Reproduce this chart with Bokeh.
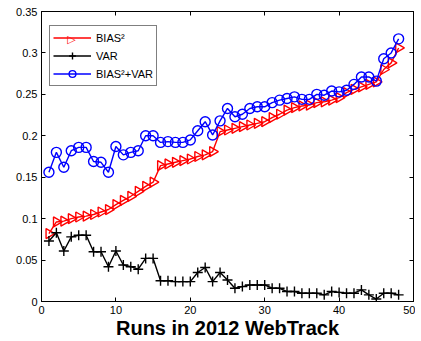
import math
from bokeh.plotting import figure
from bokeh.models import Range1d, LinearAxis, FixedTicker, Legend, LegendItem, Label
from bokeh.embed import file_html
from bokeh.resources import INLINE

runs = list(range(1, 49))
bias2 = [0.082, 0.096, 0.097, 0.100, 0.102, 0.103, 0.105, 0.108, 0.111, 0.117,
         0.122, 0.127, 0.133, 0.139, 0.144, 0.164, 0.166, 0.168, 0.170, 0.172,
         0.175, 0.177, 0.181, 0.205, 0.207, 0.209, 0.211, 0.213, 0.215, 0.217,
         0.222, 0.226, 0.231, 0.234, 0.236, 0.237, 0.240, 0.241, 0.243, 0.246,
         0.252, 0.256, 0.259, 0.262, 0.265, 0.280, 0.288, 0.306]
var = [0.073, 0.083, 0.061, 0.078, 0.080, 0.080, 0.060, 0.060, 0.042, 0.061,
       0.044, 0.042, 0.039, 0.052, 0.052, 0.025, 0.025, 0.024, 0.024, 0.024,
       0.035, 0.041, 0.024, 0.035, 0.026, 0.016, 0.018, 0.020, 0.020, 0.020,
       0.016, 0.016, 0.012, 0.012, 0.010, 0.010, 0.010, 0.008, 0.012, 0.011,
       0.010, 0.010, 0.014, 0.008, 0.003, 0.010, 0.010, 0.008]
total = [0.156, 0.180, 0.162, 0.182, 0.186, 0.186, 0.169, 0.168, 0.156, 0.187,
         0.177, 0.180, 0.182, 0.200, 0.200, 0.192, 0.193, 0.192, 0.192, 0.195,
         0.206, 0.217, 0.201, 0.218, 0.233, 0.223, 0.226, 0.233, 0.235, 0.235,
         0.240, 0.243, 0.245, 0.247, 0.244, 0.244, 0.250, 0.249, 0.254, 0.253,
         0.255, 0.262, 0.271, 0.271, 0.266, 0.293, 0.300, 0.317]

x_ticks = [0, 10, 20, 30, 40, 50]
y_ticks = [0, 0.05, 0.1, 0.15, 0.2, 0.25, 0.3, 0.35]
y_labels = {0: "0", 0.05: "0.05", 0.1: "0.1", 0.15: "0.15", 0.2: "0.2",
            0.25: "0.25", 0.3: "0.3", 0.35: "0.35"}
series_labels = ["BIAS\u00b2", "VAR", "BIAS\u00b2+VAR"]
x_title = "Runs in 2012 WebTrack"

FONT = "Liberation Sans"

p = figure(width=415, height=341, output_backend="svg", toolbar_location=None,
           x_range=Range1d(0, 50), y_range=Range1d(0, 0.35),
           min_border_left=41, min_border_right=2, min_border_top=11,
           min_border_bottom=38)
p.grid.visible = False
p.outline_line_color = "black"
p.outline_line_width = 1
p.background_fill_color = "white"
p.border_fill_color = "white"

for ax in (p.xaxis[0], p.yaxis[0]):
    ax.major_tick_in = 4
    ax.major_tick_out = 0
    ax.minor_tick_in = 0
    ax.minor_tick_out = 0
    ax.axis_line_color = "black"
    ax.major_label_text_font = FONT
    ax.major_label_text_font_size = "11px"
    ax.major_label_text_color = "black"

p.xaxis[0].ticker = FixedTicker(ticks=x_ticks)
p.yaxis[0].ticker = FixedTicker(ticks=y_ticks)
p.yaxis[0].major_label_overrides = y_labels
p.xaxis[0].major_label_standoff = 4
p.yaxis[0].major_label_standoff = 4
p.xaxis[0].axis_label = x_title
p.xaxis[0].axis_label_text_font = FONT
p.xaxis[0].axis_label_text_font_size = "20px"
p.xaxis[0].axis_label_text_font_style = "bold"
p.xaxis[0].axis_label_text_color = "black"
p.xaxis[0].axis_label_standoff = 0

top = LinearAxis(ticker=FixedTicker(ticks=x_ticks), major_label_text_font_size="0px",
                 major_tick_in=4, major_tick_out=0, minor_tick_in=0, minor_tick_out=0,
                 major_label_standoff=0)
right = LinearAxis(ticker=FixedTicker(ticks=y_ticks), major_label_text_font_size="0px",
                   major_tick_in=4, major_tick_out=0, minor_tick_in=0, minor_tick_out=0,
                   major_label_standoff=0)
top.major_label_overrides = {t: "" for t in x_ticks}
right.major_label_overrides = {t: "" for t in y_ticks}
p.add_layout(top, "above")
p.add_layout(right, "right")

lw = 1.4
l1 = p.line(runs, bias2, line_color="red", line_width=lw)
m1 = p.scatter(runs, bias2, marker="triangle", angle=-math.pi / 2, size=10,
               line_color="red", fill_color=None, line_width=lw)
l2 = p.line(runs, var, line_color="black", line_width=lw)
m2 = p.scatter(runs, var, marker="cross", size=10, line_color="black", line_width=lw)
l3 = p.line(runs, total, line_color="blue", line_width=lw)
m3 = p.scatter(runs, total, marker="circle", size=10, line_color="blue",
               fill_color=None, line_width=lw)

# right-pointing triangle symbol for the BIAS² legend entry (drawn under a transparent legend)
tri = Label(x=30, y=262.5, x_units="screen", y_units="screen", text="\u25b7",
            text_color="red", text_font="DejaVu Sans", text_font_size="11px",
            text_align="center", text_baseline="middle")
p.add_layout(tri)

legend = Legend(items=[
    LegendItem(label=series_labels[0], renderers=[l1]),
    LegendItem(label=series_labels[1], renderers=[l2, m2]),
    LegendItem(label=series_labels[2], renderers=[l3, m3]),
], location=(8, 215))
legend.border_line_color = "black"
legend.border_line_width = 1
legend.background_fill_alpha = 0
legend.label_text_font = FONT
legend.label_text_font_size = "11px"
legend.label_text_color = "black"
legend.glyph_width = 38
legend.glyph_height = 17
legend.label_height = 17
legend.spacing = 1
legend.padding = 3
legend.margin = 0
legend.label_standoff = 5
p.add_layout(legend, "center")

open("out.html", "w").write(file_html(p, INLINE))
